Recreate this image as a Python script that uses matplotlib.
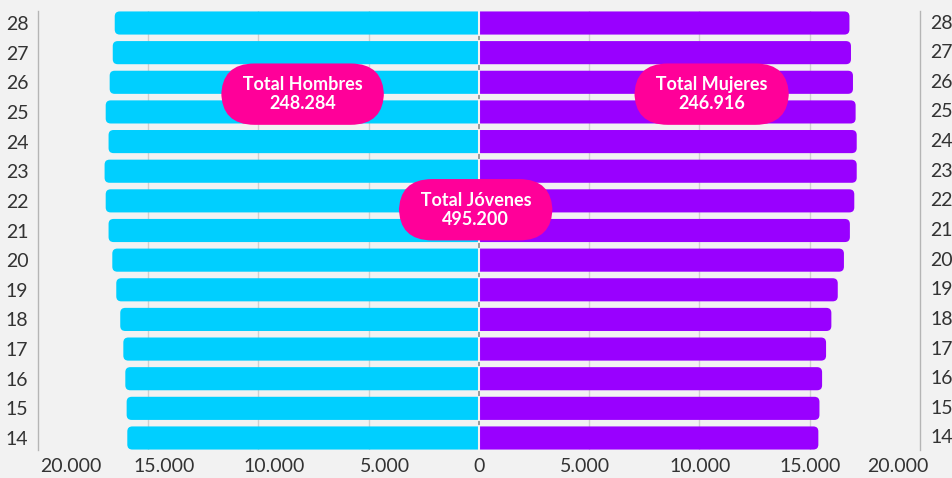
import numpy as np
import matplotlib
matplotlib.use('Agg')
import matplotlib.pyplot as plt
from matplotlib.patches import FancyBboxPatch, Rectangle

# edades y población por sexo
ages = [28, 27, 26, 25, 24, 23, 22, 21, 20, 19, 18, 17, 16, 15, 14]
hombres = [16520, 16610, 16750, 16930, 16800, 16980, 16930, 16800,
           16630, 16450, 16270, 16130, 16040, 15980, 15950]
mujeres = [16800, 16870, 16960, 17080, 17130, 17130, 17020, 16820,
           16550, 16270, 15980, 15740, 15560, 15440, 15390]

xticks = [-20000, -15000, -10000, -5000, 0, 5000, 10000, 15000, 20000]
xlabels = ['20.000', '15.000', '10.000', '5.000', '0',
           '5.000', '10.000', '15.000', '20.000']

total_h = '248.284'
total_m = '246.916'
total_j = '495.200'

bg = '#F2F2F2'
c_h = '#00CFFF'
c_m = '#9900FF'
pink = '#FF0099'
txt = '#333333'

plt.rcParams['font.family'] = ['Lato', 'DejaVu Sans']

fig = plt.figure(figsize=(9.53, 4.78), dpi=100, facecolor=bg)
ax = fig.add_axes([38 / 953, 1 - 450 / 478, (920 - 38) / 953, (450 - 11) / 478])
ax.set_facecolor(bg)
ax.set_xlim(-20000, 20000)
ax.set_ylim(13.595, 28.405)

h = 0.78
# px -> data conversion for rounded corners
px_x = 40000 / 882
px_y = (28.405 - 13.595) / 439
aspect = px_y / px_x
r = 5 * px_x
ext = 600  # rounded end past zero, clipped away

clip_l = Rectangle((-30000, 0), 30000, 50, transform=ax.transData)
clip_r = Rectangle((0, 0), 30000, 50, transform=ax.transData)

for age, vh, vm in zip(ages, hombres, mujeres):
    pl = FancyBboxPatch((-vh, age - h / 2), vh + ext, h,
                        boxstyle=f'round,pad=0,rounding_size={r}',
                        mutation_aspect=aspect, fc=c_h, ec='none', zorder=3)
    pr = FancyBboxPatch((-ext, age - h / 2), vm + ext, h,
                        boxstyle=f'round,pad=0,rounding_size={r}',
                        mutation_aspect=aspect, fc=c_m, ec='none', zorder=3)
    ax.add_patch(pl)
    ax.add_patch(pr)
    pl.set_clip_path(clip_l)
    pr.set_clip_path(clip_r)
    # light gap at zero over the bar
    ax.plot([0, 0], [age - h / 2, age + h / 2], color=bg, lw=1.5, zorder=4)

# center line (visible between bars)
ax.axvline(0, color='#8a8a8a', lw=1.2, zorder=2)

for v in [-15000, -10000, -5000, 5000, 10000, 15000]:
    ax.axvline(v, color='#cfcfcf', lw=1, zorder=1)

for s in ['top', 'bottom']:
    ax.spines[s].set_visible(False)
for s in ['left', 'right']:
    ax.spines[s].set_color('#b5b5b5')
    ax.spines[s].set_linewidth(1)

ax.set_yticks(ages)
ax.set_yticklabels([str(a) for a in ages])
ax.tick_params(axis='y', length=0, pad=7, labelsize=14, labelcolor=txt,
               labelleft=True, labelright=False)
for age in ages:
    ax.annotate(str(age), (1, age), xycoords=ax.get_yaxis_transform(),
                xytext=(10, 0), textcoords='offset pixels',
                ha='left', va='center', fontsize=14, color=txt)
ax.set_xticks([])

offs = [33, 16, 16, 16, 0, -4, 1, 0, -22]
for v, lab, dx in zip(xticks, xlabels, offs):
    ax.annotate(lab, (v, 0), xycoords=ax.get_xaxis_transform(),
                xytext=(dx, -17), textcoords='offset pixels',
                ha='center', va='center', fontsize=14, color=txt)

pill = dict(boxstyle='round,pad=0.7,rounding_size=1.85', fc=pink, ec='none')
kw = dict(ha='center', va='center', color='white', fontsize=13,
          fontweight='bold', linespacing=1.15, bbox=pill, zorder=6)
ax.text(-8000, 25.6, f'  Total Hombres  \n{total_h}', **kw)
ax.text(10550, 25.6, f'  Total Mujeres  \n{total_m}', **kw)
ax.text(-150, 21.7, f'  Total Jóvenes  \n{total_j}', **kw)

fig.savefig('out.png', dpi=100, facecolor=bg)
